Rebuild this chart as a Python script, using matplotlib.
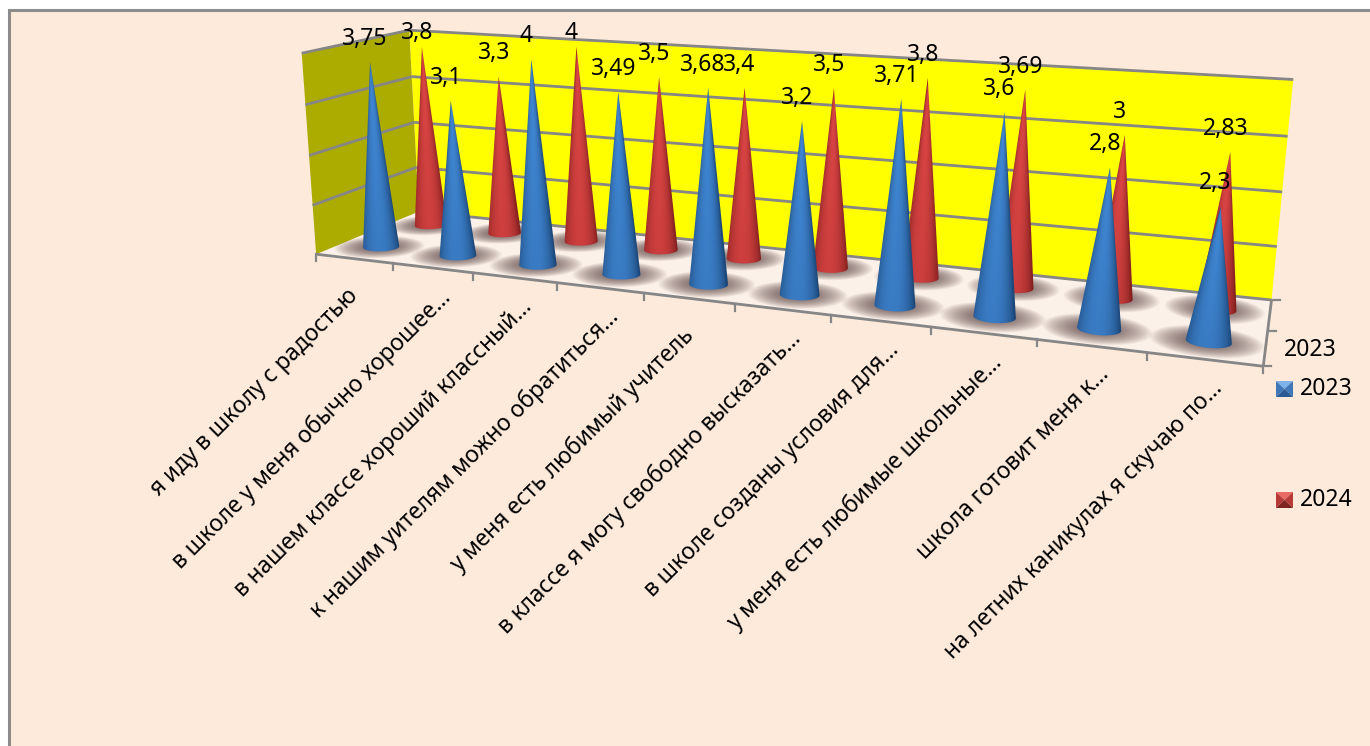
import numpy as np
import matplotlib
matplotlib.use("Agg")
import matplotlib.pyplot as plt
from matplotlib.colors import to_rgb
from matplotlib.patches import Polygon

plt.rcParams['font.family'] = ['Noto Sans', 'DejaVu Sans']

# DATA
# ------------------------------------------
categories = ["я иду в школу с радостью",
              "в школе у меня обычно хорошее…",
              "в нашем классе хороший классный…",
              "к нашим уителям можно обратиться…",
              "у меня есть любимый учитель",
              "в классе я могу свободно высказать…",
              "в школе созданы условия для…",
              "у меня есть любимые школьные…",
              "школа готовит меня к…",
              "на летних каникулах я скучаю по…"]
values_2023 = [3.75, 3.1, 4, 3.49, 3.68, 3.2, 3.71, 3.6, 2.8, 2.3]
values_2024 = [3.8, 3.3, 4, 3.5, 3.4, 3.5, 3.8, 3.69, 3, 2.83]
series_names = ["2023", "2024"]
axis_max = 4

# box corners on the picture (u along categories, v into depth, h up), used to calibrate the view
box_3d = [(0, 0, 0), (1, 0, 0), (0, 1, 0), (1, 1, 0), (0, 0, 1), (0, 1, 1), (1, 1, 1)]
box_px = [(318, 253), (1263, 368), (417, 213), (1272, 298), (300, 53), (411, 30), (1293, 80)]

BG = "#fdeadb"
FLOOR = "#fcf1e9"
GRID = "#868686"
FONT_VALUE = 16.5
FONT_CAT = 16.4


def fit_camera(pts3, pts2):
    rows = []
    rhs = []
    for (u, v, h), (x, y) in zip(pts3, pts2):
        rows.append([u, v, h, 1, 0, 0, 0, 0, -x * u, -x * v, -x * h])
        rows.append([0, 0, 0, 0, u, v, h, 1, -y * u, -y * v, -y * h])
        rhs += [x, y]
    p = np.linalg.lstsq(np.array(rows, float), np.array(rhs, float), rcond=None)[0]
    return np.append(p, 1).reshape(3, 4)


CAM = fit_camera(box_3d, box_px)


def project(u, v, h):
    q = CAM @ np.array([u, v, h, 1.0])
    return q[0] / q[2], q[1] / q[2]


def line3d(ax, a, b, lw=2.0, z=2):
    pa, pb = project(*a), project(*b)
    ax.plot([pa[0], pb[0]], [pa[1], pb[1]], color=GRID, lw=lw, zorder=z, solid_capstyle='butt')


def face(ax, corners, color, z=1):
    ax.add_patch(Polygon([project(*c) for c in corners], closed=True, fc=color, ec='none', zorder=z))


def draw_shadow(ax, u, v, ru, rv):
    phi = np.linspace(0, 2 * np.pi, 50)
    for k in np.linspace(2.5, 1.0, 24):
        pts = [project(u - ru * 0.1 + ru * k * np.cos(p), v + rv * k * np.sin(p), 0) for p in phi]
        ax.add_patch(Polygon(pts, closed=True, fc="#5a4040", ec='none', alpha=0.04, zorder=3))


def draw_cone(ax, u, v, ru, rv, value, light, dark, z):
    # silhouette: tip plus the near arc of the base ring, filled with a smooth side-to-side gradient
    phi = np.linspace(-np.pi * 1.3, np.pi * 0.3, 120)
    tip = np.array(project(u, v, value / axis_max))
    base = np.array(project(u, v, 0))
    ring = np.array([project(u + ru * np.cos(p), v + rv * np.sin(p), 0) for p in phi])
    i0, i1 = ring[:, 0].argmin(), ring[:, 0].argmax()
    outline = np.vstack([ring[i0:i1 + 1], tip])
    half = (ring[i1, 0] - ring[i0, 0]) / 2

    x0, x1 = outline[:, 0].min() - 1, outline[:, 0].max() + 1
    y0, y1 = outline[:, 1].min() - 1, outline[:, 1].max() + 1
    xs = np.linspace(x0, x1, int((x1 - x0) * 3))
    ys = np.linspace(y0, y1, int((y1 - y0) * 2))
    xx, yy = np.meshgrid(xs, ys)
    t = np.clip((yy - tip[1]) / (base[1] - tip[1]), 0.004, 1)
    s = (xx - (tip[0] + t * (base[0] - tip[0]))) / (t * half)
    # brightest a little left of the middle, darkest on the right rim
    shade = np.clip(1 - ((s + 0.12) / 1.05) ** 2, 0, 1) ** 0.75
    shade = np.clip(shade + 0.22 * (1 - t), 0, 1.15)
    light, dark = np.array(to_rgb(light)), np.array(to_rgb(dark))
    img = np.clip(dark + (light - dark) * shade[..., None], 0, 1)
    im = ax.imshow(img, extent=(x0, x1, y1, y0), origin='upper', aspect='auto',
                   interpolation='bilinear', zorder=z)
    im.set_clip_path(Polygon(outline, closed=True, transform=ax.transData))
    return tip


# MAIN FIGURE
# ------------------------------------------
fig = plt.figure(figsize=(13.7, 7.46), dpi=100, facecolor="white")
ax = fig.add_axes([0, 0, 1, 1])
ax.axis('off')

# chart area with its border
ax.add_patch(plt.Rectangle((9, 10), 1400, 800, fc=BG, ec="#8c8c8c", lw=2.2, zorder=0))

# walls and floor
face(ax, [(0, 0, 0), (1, 0, 0), (1, 1, 0), (0, 1, 0)], FLOOR)
face(ax, [(0, 1, 0), (1, 1, 0), (1, 1, 1), (0, 1, 1)], "#ffff00")
face(ax, [(0, 0, 0), (0, 1, 0), (0, 1, 1), (0, 0, 1)], "#abab00")

for level in range(1, axis_max + 1):
    h = level / axis_max
    line3d(ax, (0, 1, h), (1, 1, h))
    line3d(ax, (0, 0, h), (0, 1, h))
line3d(ax, (0, 1, 0), (1, 1, 0))
line3d(ax, (0, 0, 0), (1, 0, 0), z=2.5)
line3d(ax, (1, 0, 0), (1, 1, 0), z=2.5)

# category ticks hang straight down from the front edge, series ticks point right
n = len(categories)
for i in range(n + 1):
    x, y = project(i / n, 0, 0)
    ax.plot([x, x], [y, y + 7], color=GRID, lw=1.6, zorder=2.5)
for v in (0, 0.5, 1):
    x, y = project(1, v, 0)
    ax.plot([x, x + 8], [y, y], color=GRID, lw=1.6, zorder=2.5)

# cones, far row first so the near row overlaps it
rows = ((0.75, values_2024, 0.09, 0.019, "#cc3f3e", "#82201f"),
        (0.25, values_2023, 0.09, 0.0205, "#3a7cc4", "#1c4677"))
for row, vals, rv, ru, light, dark in rows:
    for i in range(n):
        draw_shadow(ax, (i + 0.5) / n, row, ru, rv)
for row, vals, rv, ru, light, dark in rows:
    for i, val in enumerate(vals):
        tip = draw_cone(ax, (i + 0.5) / n, row, ru, rv, val, light, dark, 5 - row)
        dy = 14 if (row, i) in ((0.75, 0), (0.75, 2)) else 23
        ax.text(tip[0] - 5, tip[1] - dy, f"{val:g}".replace(".", ","), ha='center', va='center',
                fontsize=FONT_VALUE, color='black', zorder=10)

# category labels, shortened ones sit a little further along the edge
for i, label in enumerate(categories):
    x, y = project((i + 0.5) / n, 0, 0)
    dx, dy = (6, 17) if label.endswith("…") else (-8, 25)
    ax.text(x + dx, y + dy, label, rotation=45, rotation_mode='anchor', ha='right', va='top',
            fontsize=FONT_CAT, color='black', zorder=10)

# series axis label and legend
ax.text(1310, 350, series_names[0], ha='center', va='center', fontsize=FONT_VALUE, zorder=10)
for name, y0, top, side, bottom in ((series_names[0], 381, "#7db2ea", "#3f78b8", "#2a5a94"),
                                    (series_names[1], 492, "#ea6a66", "#b53a38", "#7f2321")):
    x0, x1, y1 = 1276, 1293, y0 + 16
    cx, cy = (x0 + x1) / 2, (y0 + y1) / 2
    ax.add_patch(Polygon([(x0, y0), (x1, y0), (cx, cy)], fc=top, ec='none', zorder=10))
    ax.add_patch(Polygon([(x0, y0), (x0, y1), (cx, cy)], fc=side, ec='none', zorder=10))
    ax.add_patch(Polygon([(x1, y0), (x1, y1), (cx, cy)], fc=side, ec='none', zorder=10))
    ax.add_patch(Polygon([(x0, y1), (x1, y1), (cx, cy)], fc=bottom, ec='none', zorder=10))
    ax.text(1300, y0 + 8, name, ha='left', va='center', fontsize=FONT_VALUE, zorder=10)

ax.set_xlim(0, 1370)
ax.set_ylim(746, 0)
fig.savefig("out.png", dpi=100, facecolor=fig.get_facecolor())
